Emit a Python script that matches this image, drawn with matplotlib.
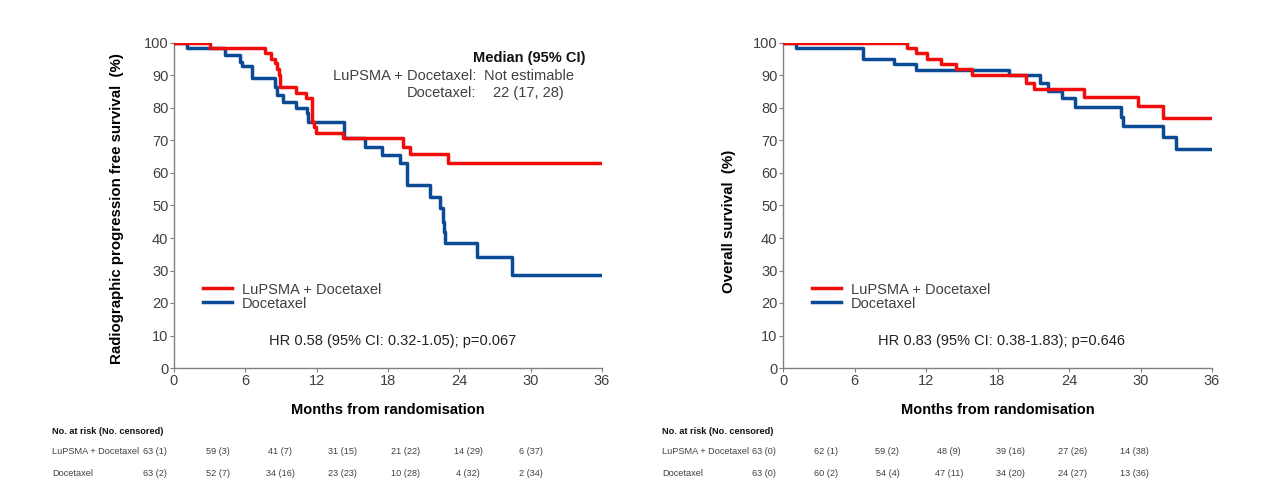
import numpy as np
import matplotlib.pyplot as plt

plt.rcParams['font.family'] = ['Liberation Sans', 'DejaVu Sans']

# --- data (months, % surviving), step functions ---
rpfs_lu_t = [0, 3.0, 7.65, 8.2, 8.5, 8.7, 8.8, 8.9, 10.3, 11.1, 11.6, 11.75, 11.95, 14.2, 19.3, 19.85, 23.07, 36]
rpfs_lu_s = [100, 98.4, 96.8, 95.2, 93.7, 92.1, 90.2, 86.4, 84.7, 83.0, 75.8, 74.3, 72.2, 70.7, 68.1, 65.7, 63.0, 63.0]
rpfs_doc_t = [0, 1.07, 4.29, 5.55, 5.69, 6.53, 8.49, 8.7, 9.19, 10.3, 11.16, 11.3, 14.3, 16.1, 17.5, 19.0,
              19.6, 21.5, 22.4, 22.6, 22.7, 22.8, 25.5, 28.4, 36]
rpfs_doc_s = [100, 98.4, 96.3, 94.3, 92.9, 89.1, 86.6, 84.0, 81.9, 79.9, 78.4, 75.8, 70.7, 68.1, 65.5, 63.0,
              56.3, 52.7, 49.1, 45.0, 41.9, 38.4, 34.3, 28.6, 28.6]

os_lu_t = [0, 10.38, 11.16, 12.05, 13.3, 14.5, 15.9, 20.4, 21.1, 25.3, 29.8, 31.85, 36]
os_lu_s = [100, 98.4, 96.8, 95.2, 93.5, 91.9, 90.2, 87.8, 85.7, 83.5, 80.7, 76.8, 76.8]
os_doc_t = [0, 1.09, 6.74, 9.31, 11.2, 19.0, 21.56, 22.2, 23.4, 24.5, 28.36, 28.5, 31.9, 33.0, 36]
os_doc_s = [100, 98.4, 95.0, 93.4, 91.8, 90.2, 87.6, 85.3, 83.0, 80.4, 77.3, 74.5, 71.2, 67.3, 67.3]

arms = ['LuPSMA + Docetaxel', 'Docetaxel']

# numbers at risk (censored)
rpfs_risk_lu = ['63 (1)', '59 (3)', '41 (7)', '31 (15)', '21 (22)', '14 (29)', '6 (37)']
rpfs_risk_doc = ['63 (2)', '52 (7)', '34 (16)', '23 (23)', '10 (28)', '4 (32)', '2 (34)']
os_risk_lu = ['63 (0)', '62 (1)', '59 (2)', '48 (9)', '39 (16)', '27 (26)', '14 (38)']
os_risk_doc = ['63 (0)', '60 (2)', '54 (4)', '47 (11)', '34 (20)', '24 (27)', '13 (36)']

hr_rpfs = 'HR 0.58 (95% CI: 0.32-1.05); p=0.067'
hr_os = 'HR 0.83 (95% CI: 0.38-1.83); p=0.646'

RED = '#f20d0d'
BLUE = '#0b4a94'
GREY = '#808080'
TXT = '#404040'

W, H = 1269, 501
fig = plt.figure(figsize=(W / 100, H / 100), dpi=100)

def px(x, y):
    # pixel position -> figure fraction
    return x / W, 1 - y / H

ax1 = fig.add_axes([174 / W, 1 - 368 / H, 428 / W, 325 / H])
ax2 = fig.add_axes([783 / W, 1 - 368 / H, 429 / W, 325 / H])

panels = [
    (ax1, rpfs_lu_t, rpfs_lu_s, rpfs_doc_t, rpfs_doc_s, 'Radiographic progression free survival  (%)', hr_rpfs, 0.49, -0.117),
    (ax2, os_lu_t, os_lu_s, os_doc_t, os_doc_s, 'Overall survival  (%)', hr_os, 0.45, -0.11),
]

for ax, lt, ls, dt, ds, ylab, hr, ylab_y, ylab_x in panels:
    ax.step(lt, ls, where='post', color=RED, lw=2.5, label=arms[0], zorder=3)
    ax.step(dt, ds, where='post', color=BLUE, lw=2.5, label=arms[1], zorder=2)
    ax.set_xlim(0, 36)
    ax.set_ylim(0, 100)
    ax.set_xticks(np.arange(0, 37, 6))
    ax.set_yticks(np.arange(0, 101, 10))
    for s in ['top', 'right']:
        ax.spines[s].set_visible(False)
    for s in ['left', 'bottom']:
        ax.spines[s].set_color(GREY)
        ax.spines[s].set_linewidth(1.0)
    ax.tick_params(axis='both', colors=GREY, labelcolor=TXT, labelsize=10.5, length=3, width=0.8, pad=1)
    ax.set_xlabel('Months from randomisation', fontsize=10.5, fontweight='bold', labelpad=11)
    ax.set_ylabel(ylab, fontsize=10.8, fontweight='bold')
    ax.yaxis.set_label_coords(ylab_x, ylab_y)
    leg = ax.legend(loc='center left', bbox_to_anchor=(0.068, 0.22), frameon=False, fontsize=10.5,
                    handlelength=1.95, handletextpad=0.7, labelspacing=0.0, borderpad=0, borderaxespad=0)
    for t in leg.get_texts():
        t.set_color(TXT)
    ax.text(0.51, 0.083, hr, transform=ax.transAxes, ha='center', va='center', fontsize=10.5, color='#222222')

# median box on the left panel
ax1.text(0.829, 0.953, 'Median (95% CI)', transform=ax1.transAxes, ha='center', va='center',
         fontsize=10.5, fontweight='bold', color='#111111')
ax1.text(0.707, 0.898, 'LuPSMA + Docetaxel:', transform=ax1.transAxes, ha='right', va='center',
         fontsize=10.5, color=TXT)
ax1.text(0.829, 0.898, 'Not estimable', transform=ax1.transAxes, ha='center', va='center',
         fontsize=10.5, color=TXT)
ax1.text(0.707, 0.845, 'Docetaxel:', transform=ax1.transAxes, ha='right', va='center',
         fontsize=10.5, color=TXT)
ax1.text(0.829, 0.845, '22 (17, 28)', transform=ax1.transAxes, ha='center', va='center',
         fontsize=10.5, color=TXT)

# risk tables
tables = [
    (52, 155, 62.6, rpfs_risk_lu, rpfs_risk_doc),
    (662, 764, 61.7, os_risk_lu, os_risk_doc),
]
for x0, c0, step, r_lu, r_doc in tables:
    fig.text(*px(x0, 432), 'No. at risk (No. censored)', fontsize=6.6, fontweight='bold',
             ha='left', va='center', color='#111111')
    for yy, name, row in [(452, arms[0], r_lu), (474, arms[1], r_doc)]:
        fig.text(*px(x0, yy), name, fontsize=6.6, ha='left', va='center', color=TXT)
        for i, v in enumerate(row):
            fig.text(*px(c0 + i * step, yy), v, fontsize=6.6, ha='center', va='center', color=TXT)

fig.savefig('out.png', dpi=100)
